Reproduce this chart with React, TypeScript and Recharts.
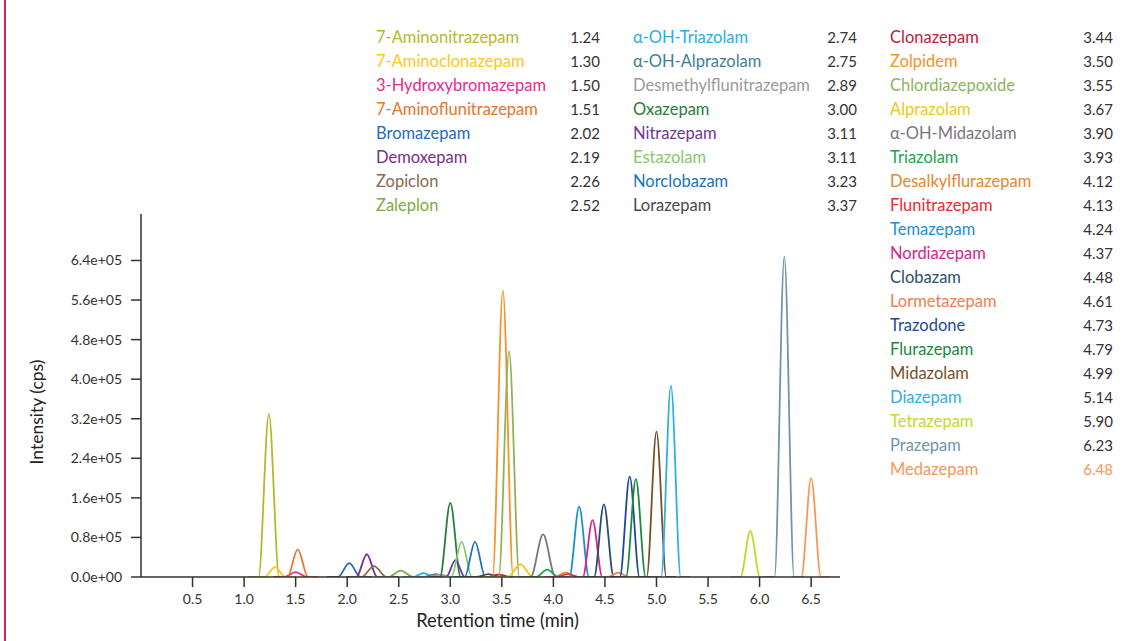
import { LineChart, Line, XAxis, YAxis, Label } from "recharts";

// compound names, in legend order
const compounds = [
  "7-Aminonitrazepam", "7-Aminoclonazepam", "3-Hydroxybromazepam", "7-Aminoflunitrazepam",
  "Bromazepam", "Demoxepam", "Zopiclon", "Zaleplon",
  "α-OH-Triazolam", "α-OH-Alprazolam", "Desmethylflunitrazepam", "Oxazepam",
  "Nitrazepam", "Estazolam", "Norclobazam", "Lorazepam",
  "Clonazepam", "Zolpidem", "Chlordiazepoxide", "Alprazolam",
  "α-OH-Midazolam", "Triazolam", "Desalkylflurazepam", "Flunitrazepam",
  "Temazepam", "Nordiazepam", "Clobazam", "Lormetazepam",
  "Trazodone", "Flurazepam", "Midazolam", "Diazepam",
  "Tetrazepam", "Prazepam", "Medazepam",
];

// retention times as printed in the legend
const legendTimes = [
  "1.24", "1.30", "1.50", "1.51", "2.02", "2.19", "2.26", "2.52",
  "2.74", "2.75", "2.89", "3.00", "3.11", "3.11", "3.23", "3.37",
  "3.44", "3.50", "3.55", "3.67", "3.90", "3.93", "4.12", "4.13",
  "4.24", "4.37", "4.48", "4.61", "4.73", "4.79", "4.99", "5.14",
  "5.90", "6.23", "6.48",
];

// apex positions (min)
const peakTimes = [
  1.24, 1.30, 1.50, 1.52, 2.02, 2.19, 2.26, 2.52,
  2.74, 2.86, 2.90, 3.00, 3.05, 3.11, 3.24, 3.37,
  3.47, 3.51, 3.57, 3.68, 3.90, 3.94, 4.12, 4.14,
  4.25, 4.38, 4.49, 4.63, 4.74, 4.80, 5.00, 5.14,
  5.91, 6.24, 6.50,
];

// apex intensity (cps)
const peakHeights = [
  330000, 20000, 10000, 56000, 28000, 46000, 22000, 13000,
  8000, 6000, 5000, 150000, 34000, 71000, 71000, 6000,
  5000, 579000, 456000, 26000, 86000, 15000, 9000, 6000,
  142000, 115000, 147000, 9000, 203000, 198000, 294000, 387000,
  93000, 648000, 200000,
];

// peak width at half height (min)
const peakWidths = [
  0.1, 0.1, 0.11, 0.1, 0.11, 0.1, 0.12, 0.12,
  0.1, 0.12, 0.12, 0.1, 0.09, 0.1, 0.1, 0.12,
  0.12, 0.1, 0.1, 0.12, 0.12, 0.11, 0.11, 0.11,
  0.095, 0.095, 0.095, 0.1, 0.095, 0.095, 0.095, 0.095,
  0.095, 0.095, 0.095,
];

const colors = [
  "#b5b82d", "#ffc61e", "#ec2a8c", "#e8742a", "#1f6bbf", "#7d2d8c", "#8a6a4c", "#7cad3f",
  "#27aee8", "#3d7f96", "#9a9a9a", "#2a7d3a", "#6b3a9a", "#86c86a", "#1a73c2", "#4a4a4a",
  "#c4203a", "#f7922a", "#8db45a", "#f0c814", "#7b7580", "#1fa34a", "#e8862a", "#ee2a30",
  "#1b8fd6", "#d6248e", "#2a4e6a", "#f47c4c", "#1c4a9a", "#1a8a3e", "#7a4f2a", "#2db0ea",
  "#c4d82a", "#6f95aa", "#f8965a",
];

const xTicks = [0.5, 1.0, 1.5, 2.0, 2.5, 3.0, 3.5, 4.0, 4.5, 5.0, 5.5, 6.0, 6.5];
const yTicks = [0, 80000, 160000, 240000, 320000, 400000, 480000, 560000, 640000];
const yTickLabels = [
  "0.0e+00", "0.8e+05", "1.6e+05", "2.4e+05", "3.2e+05",
  "4.0e+05", "4.8e+05", "5.6e+05", "6.4e+05",
];

const legendColumns = [
  { start: 0, end: 8, left: 376, right: 600 },
  { start: 8, end: 16, left: 633, right: 857 },
  { start: 16, end: 35, left: 890, right: 1113 },
];

const FONT = "Lato, 'Open Sans', sans-serif";
const INK = "#333333";

// each peak as a small set of points, smoothed by the monotone curve
const peaks = compounds.map((name, i) => {
  const t = peakTimes[i];
  const w = peakWidths[i];
  return {
    name,
    color: colors[i],
    points: [
      { t: t - 2 * w, v: 0 },
      { t: t - w, v: 0 },
      { t, v: peakHeights[i] },
      { t: t + w, v: 0 },
      { t: t + 2 * w, v: 0 },
    ],
  };
});

export default function App() {
  return (
    <div style={{ position: "absolute", left: 0, top: 0, width: 1132, height: 641, background: "#fff", fontFamily: FONT }}>
      {/* left page rule */}
      <div style={{ position: "absolute", left: 4, top: 0, width: 2, height: 641, background: "#c2266e" }} />

      <LineChart width={1132} height={641} margin={{ top: 214, right: 292, bottom: 0, left: 0 }}>
        <XAxis
          type="number"
          dataKey="t"
          domain={[0, 6.78]}
          allowDataOverflow
          ticks={xTicks}
          tickFormatter={(v: number) => v.toFixed(1)}
          height={64}
          stroke={INK}
          strokeWidth={1.5}
          tickSize={10}
          tickMargin={7}
          tick={{ fill: INK, fontSize: 14, fontFamily: FONT }}
        >
          <Label value="Retention time (min)" position="insideBottom" offset={14} dx={7} fill="#222" fontSize={18.3} fontFamily={FONT} />
        </XAxis>
        <YAxis
          type="number"
          domain={[0, 734000]}
          allowDataOverflow
          ticks={yTicks}
          tickFormatter={(v: number) => yTickLabels[yTicks.indexOf(v)]}
          width={141}
          stroke={INK}
          strokeWidth={1.5}
          tickSize={10}
          tickMargin={9}
          tick={{ fill: INK, fontSize: 14, fontFamily: FONT }}
        />
        {peaks.map((p) => (
          <Line
            key={p.name}
            data={p.points}
            dataKey="v"
            type="monotone"
            stroke={p.color}
            strokeWidth={1.8}
            dot={false}
            activeDot={false}
            isAnimationActive={false}
          />
        ))}
      </LineChart>

      {/* y axis title */}
      <div
        style={{
          position: "absolute",
          left: 36,
          top: 412,
          transform: "translate(-50%, -50%) rotate(-90deg)",
          fontSize: 17.5,
          color: "#222",
          whiteSpace: "nowrap",
        }}
      >
        Intensity (cps)
      </div>

      {/* compound table */}
      {legendColumns.map((col) =>
        compounds.slice(col.start, col.end).map((name, k) => {
          const i = col.start + k;
          const top = 25 + k * 24;
          return (
            <div key={name}>
              <div style={{ position: "absolute", left: col.left, top, height: 24, lineHeight: "24px", fontSize: 16.5, color: colors[i], whiteSpace: "nowrap" }}>
                {name}
              </div>
              <div
                style={{
                  position: "absolute",
                  left: col.right - 60,
                  width: 60,
                  textAlign: "right",
                  top,
                  height: 24,
                  lineHeight: "24px",
                  fontSize: 15,
                  color: name === "Medazepam" ? colors[i] : INK,
                }}
              >
                {legendTimes[i]}
              </div>
            </div>
          );
        })
      )}
    </div>
  );
}
